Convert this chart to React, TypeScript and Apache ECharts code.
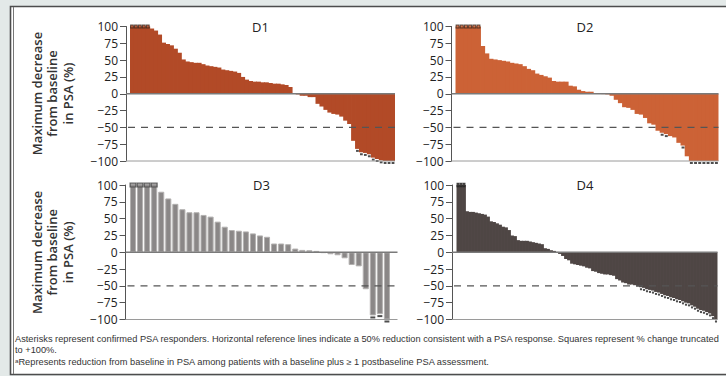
import React, { useEffect, useRef } from "react";
import * as echarts from "echarts";

// Panel names
const panelTitles = ["D1", "D2", "D3", "D4"];

// Maximum decrease from baseline in PSA (%), one bar per patient, sorted
const d1Values = [
  100, 100, 100, 100, 100, 97, 94, 88, 76, 74, 72, 67, 61, 51, 48, 47, 46, 46, 44, 42, 41, 40, 39,
  36, 35, 34, 33, 31, 25, 21, 19, 18, 18, 17, 17, 16, 15, 15, 14, 13, 10, 1, -1, -3, -3, -5, -5,
  -15, -19, -24, -28, -30, -31, -34, -40, -45, -70, -82, -87, -88, -90, -95, -97, -99, -100, -100, -100,
];
const d2Values = [
  100, 100, 100, 100, 100, 100, 71, 60, 52, 51, 50, 49, 48, 46, 45, 44, 41, 37, 35, 30, 28, 26, 24,
  19, 18, 18, 18, 12, 11, 6, 4, 3, 3, 1, 0.5, -0.5, -1, -3, -9, -14, -20, -21, -24, -30, -31, -36,
  -44, -46, -55, -58, -60, -63, -65, -73, -77, -93, -100, -100, -100, -100, -100, -100, -100,
];
const d3Values = [
  100, 100, 100, 100, 90, 80, 72, 64, 59.5, 59.5, 55.5, 53, 45.5, 38, 33, 32, 31, 28, 25, 23, 13,
  13, 12, 5.5, 3.5, 3, 2, -1, -3, -4.5, -9, -19, -21, -55, -94, -92, -100,
];
const d4Values = [
  100, 100, 100, 61, 60, 60, 59, 58, 57, 56, 53, 46, 45, 43, 41, 38, 37, 33, 25, 24, 18, 17, 17, 17,
  16, 15, 14, 13, 12, 6, 5, 3, 2, 0.5, -2.5, -5.5, -10, -12, -17, -18, -19, -20, -21, -23, -24, -28,
  -29, -31, -32, -33, -33, -34, -35, -40, -42, -45, -46, -48, -48, -49, -51, -52, -53, -55, -56,
  -57, -59, -60, -62, -64, -65, -67, -68, -70, -71, -73, -75, -76, -79, -81, -84, -86, -87, -89,
  -91, -95, -100,
];

// Bars whose change was truncated to +100% (drawn with a square)
const d1Truncated = [0, 1, 2, 3, 4];
const d2Truncated = [0, 1, 2, 3, 4, 5];
const d3Truncated = [0, 1, 2, 3];
const d4Truncated = [0, 1, 2];

// Confirmed PSA responders (drawn with an asterisk mark)
const d1Responders = [57, 58, 59, 60, 61, 62, 63, 64, 65, 66];
const d2Responders = [49, 50, 54, 56, 57, 58, 59, 60, 61, 62];
const d3Responders = [34, 35, 36];
const d4Responders = [
  61, 62, 63, 64, 65, 66, 67, 68, 69, 70, 71, 72, 73, 74, 75, 76, 77, 78, 79, 80, 81, 82, 83, 84, 85, 86,
];

const responseLine = -50;
const yMin = -100;
const yMax = 100;
const yStep = 25;

const yAxisTitle = ["Maximum decrease", "from baseline", "in PSA (%)"];
const footnotes = [
  "Asterisks represent confirmed PSA responders. Horizontal reference lines indicate a 50% reduction consistent with a PSA response. Squares represent % change truncated",
  "to +100%.",
  "\u1d43Represents reduction from baseline in PSA among patients with a baseline plus \u2265 1 postbaseline PSA assessment.",
];

const FONT = "'Open Sans', 'DejaVu Sans', sans-serif";
const NOTE_FONT = "8.5px 'Liberation Sans', Arial, sans-serif";

type Panel = {
  title: string;
  values: number[];
  truncated: number[];
  responders: number[];
  color: string;
  edge: string;
  squareEdge: string;
  left: number;
  top: number;
  width: number;
  axisX: number;
  slots: number;
  separated: boolean;
};

const PLOT_H = 134.5;

const panels: Panel[] = [
  {
    title: panelTitles[0], values: d1Values, truncated: d1Truncated, responders: d1Responders,
    color: "#b24a27", edge: "#b24a27", squareEdge: "#3b2a22",
    left: 130, top: 26.5, width: 265, axisX: 126, slots: d1Values.length, separated: false,
  },
  {
    title: panelTitles[1], values: d2Values, truncated: d2Truncated, responders: d2Responders,
    color: "#cc6236", edge: "#cc6236", squareEdge: "#3b2a22",
    left: 455.5, top: 26.5, width: 263, axisX: 451.5, slots: d2Values.length, separated: false,
  },
  {
    title: panelTitles[2], values: d3Values, truncated: d3Truncated, responders: d3Responders,
    color: "#8a8787", edge: "#b3b1b0", squareEdge: "#444444",
    left: 129.5, top: 185, width: 268, axisX: 125.5, slots: d3Values.length + 1, separated: true,
  },
  {
    title: panelTitles[3], values: d4Values, truncated: d4Truncated, responders: d4Responders,
    color: "#4e4644", edge: "#4e4644", squareEdge: "#222222",
    left: 456.5, top: 185, width: 261, axisX: 452, slots: d4Values.length, separated: false,
  },
];

const minusLabel = (v: number) => (v < 0 ? "\u2212" + Math.abs(v) : String(v));

export default function App() {
  const ref = useRef<HTMLDivElement>(null);

  useEffect(() => {
    if (!ref.current) return;
    const chart = echarts.init(ref.current, null, { renderer: "svg" });

    const series: any[] = [];
    panels.forEach((p, i) => {
      const bw = p.width / p.slots;
      series.push({
        type: "bar",
        xAxisIndex: i,
        yAxisIndex: i,
        data: p.values,
        // contiguous panels: bars slightly wider than their band so no seams show
        barWidth: p.separated ? bw * 0.86 : bw + 0.8,
        silent: true,
        itemStyle: p.separated
          ? { color: p.color, borderColor: p.edge, borderWidth: 1 }
          : { color: p.color, borderWidth: 0 },
      });
      series.push({
        type: "scatter",
        xAxisIndex: i,
        yAxisIndex: i,
        silent: true,
        z: 4,
        symbol: "rect",
        symbolSize: [Math.max(bw - 1.2, 2), p.separated ? 4 : 3],
        data: p.truncated.map((j) => [j, p.values[j]]),
        itemStyle: { color: p.color, borderColor: p.squareEdge, borderWidth: 1 },
      });
      series.push({
        type: "scatter",
        xAxisIndex: i,
        yAxisIndex: i,
        silent: true,
        z: 4,
        symbol: "rect",
        symbolSize: [Math.max(bw * 0.7, 2), 2],
        symbolOffset: [0, 2],
        data: p.responders.map((j) => [j, p.values[j]]),
        itemStyle: { color: "#222222" },
      });
    });

    chart.setOption({
      animation: false,
      grid: panels.map((p) => ({
        left: p.left,
        top: p.top,
        width: p.width,
        height: PLOT_H,
      })),
      xAxis: panels.map((p, i) => ({
        type: "category",
        gridIndex: i,
        data: p.values.map((_, j) => String(j + 1)),
        max: p.slots - 1,
        axisLine: { show: false },
        axisTick: { show: false },
        axisLabel: { show: false },
        splitLine: { show: false },
      })),
      yAxis: panels.map((p, i) => ({
        type: "value",
        gridIndex: i,
        min: yMin,
        max: yMax,
        interval: yStep,
        offset: p.left - p.axisX,
        axisLine: { show: true, lineStyle: { color: "#555555", width: 1 } },
        axisTick: { show: true, length: 6, lineStyle: { color: "#555555" } },
        axisLabel: {
          fontSize: 12,
          fontFamily: FONT,
          color: "#222222",
          margin: 8,
          formatter: minusLabel,
        },
        splitLine: { show: false },
      })),
      series,
    });

    // Figure frame
    const graphics: any[] = [
      {
        type: "rect",
        z: -100,
        shape: { x: 10.5, y: 6.5, width: 740, height: 368 },
        style: { fill: "#ffffff", stroke: "#4d4d4d", lineWidth: 1.6 },
      },
      {
        type: "line",
        z: -99,
        shape: { x1: 13.5, y1: 7, x2: 13.5, y2: 374 },
        style: { stroke: "#777777", lineWidth: 1 },
      },
    ];

    // Reference lines: zero line, bottom baseline and dashed 50% response line
    panels.forEach((p, i) => {
      const y0 = chart.convertToPixel({ yAxisIndex: i }, 0) as number;
      const yb = chart.convertToPixel({ yAxisIndex: i }, yMin) as number;
      const yr = chart.convertToPixel({ yAxisIndex: i }, responseLine) as number;
      const right = p.left + p.width;
      graphics.push(
        {
          type: "line",
          z: 100,
          shape: { x1: p.axisX, y1: y0, x2: right, y2: y0 },
          style: { stroke: "#7a7a7a", lineWidth: 1.3 },
        },
        {
          type: "line",
          z: 100,
          shape: { x1: p.axisX, y1: yb, x2: right, y2: yb },
          style: { stroke: "#9a9a9a", lineWidth: 1 },
        },
        {
          type: "line",
          z: 100,
          shape: { x1: p.axisX + 2, y1: yr, x2: right, y2: yr },
          style: { stroke: "#555555", lineWidth: 1.2, lineDash: [7, 6] },
        },
        {
          type: "text",
          z: 100,
          x: p.left + p.width / 2 - 2,
          y: p.top,
          style: {
            text: p.title,
            fill: "#222222",
            font: `13px ${FONT}`,
            align: "center",
            verticalAlign: "middle",
          },
        }
      );
    });

    [93.5, 252.3].forEach((cy) => {
      graphics.push({
        type: "text",
        z: 100,
        x: 52,
        y: cy,
        rotation: Math.PI / 2,
        style: {
          text: yAxisTitle.join("\n"),
          fill: "#333333",
          font: `600 13px ${FONT}`,
          align: "center",
          verticalAlign: "middle",
          lineHeight: 15.5,
        },
      });
    });

    // Footnotes: fit the first line between the frame edges
    const probe = new echarts.graphic.Text({ style: { text: footnotes[0], font: NOTE_FONT } });
    const natural = probe.getBoundingRect().width || 700;
    const noteScale = 706 / natural;

    [339.5, 350.5, 362].forEach((y, k) => {
      graphics.push({
        type: "text",
        z: 100,
        x: 15,
        y,
        scaleX: noteScale,
        style: {
          text: footnotes[k],
          fill: "#333333",
          font: NOTE_FONT,
          align: "left",
          verticalAlign: "middle",
        },
      });
    });

    chart.setOption({ graphic: graphics });

    return () => chart.dispose();
  }, []);

  return (
    <div
      ref={ref}
      style={{
        position: "absolute",
        left: 0,
        top: 0,
        width: 726,
        height: 376,
        background: "#e3e9e8",
      }}
    />
  );
}
